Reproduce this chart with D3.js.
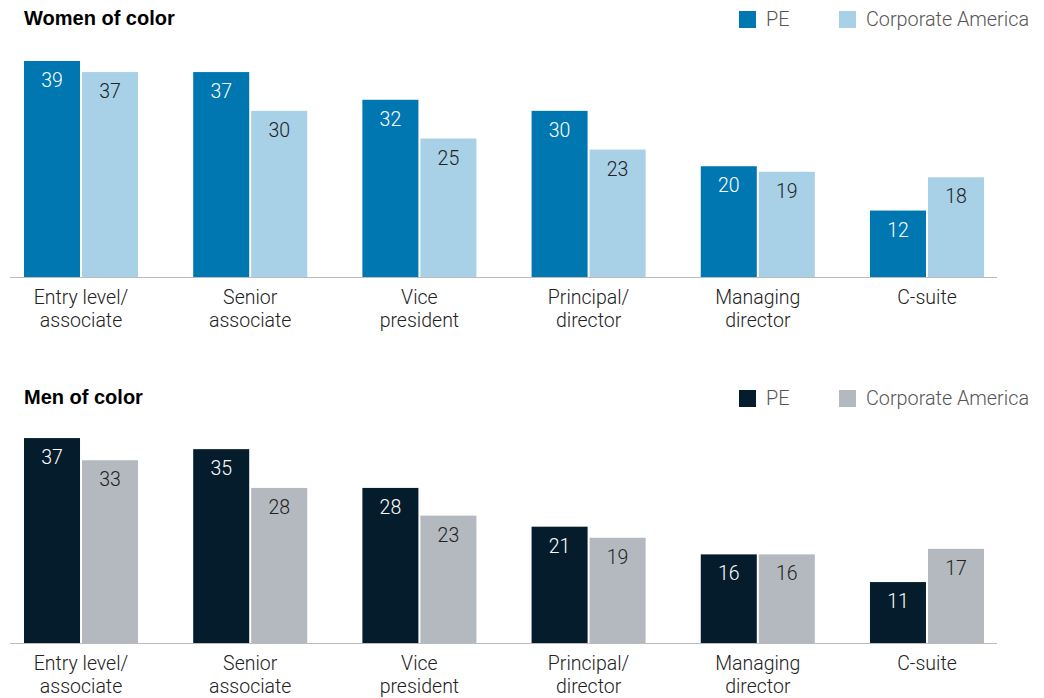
<!DOCTYPE html>
<html><head><meta charset="utf-8">
<script src="https://cdn.jsdelivr.net/npm/d3@7"></script>
<style>body{margin:0;background:#fff}svg{display:block}</style>
</head><body>
<svg id="c" width="1044" height="698"></svg>
<script>
const categories = [["Entry level/","associate"],["Senior","associate"],["Vice","president"],["Principal/","director"],["Managing","director"],["C-suite"]];
const seriesNames = ["PE","Corporate America"];
const womenPE = [39,37,32,30,20,12];
const womenCorp = [37,30,25,23,19,18];
const menPE = [37,35,28,21,16,11];
const menCorp = [33,28,23,19,16,17];

const svg = d3.select("#c");
const font = "Roboto, 'Liberation Sans', Arial, sans-serif";
const tfont = "'Liberation Sans', Arial, sans-serif";
const panels = [
  {title:"Women of color", top:0, base:277, data:[womenPE, womenCorp], colors:["#0077b0","#a8d0e6"], text:["#fff","#222"]},
  {title:"Men of color", top:379, base:643, data:[menPE, menCorp], colors:["#051c2c","#b3b9bf"], text:["#fff","#222"]}
];
const x = d3.scaleBand().domain(d3.range(categories.length)).range([24,984]).paddingInner(0.326).paddingOuter(0);
const xs = d3.scaleBand().domain([0,1]).range([0,x.bandwidth()]).paddingInner(0.0345);

panels.forEach(p => {
  const g = svg.append("g");
  const y = d3.scaleLinear().domain([0,39]).range([p.base, p.base-216]);
  g.append("text").attr("x",24).attr("y",p.top+25).attr("font-family",tfont).attr("font-weight","bold").attr("font-size",20).attr("fill","#000").text(p.title);
  const lx = [739, 839];
  seriesNames.forEach((n,i)=>{
    g.append("rect").attr("x",lx[i]).attr("y",p.top+11).attr("width",17).attr("height",17).attr("fill",p.colors[i]);
    g.append("text").attr("x",lx[i]+27).attr("y",p.top+26).attr("font-family",font).attr("font-weight",300).attr("font-size",19.8).attr("fill","#555").text(n);
  });
  p.data.forEach((vals,si)=>{
    g.selectAll(null).data(vals).enter().append("rect")
      .attr("x",(d,i)=>x(i)+xs(si)).attr("width",xs.bandwidth())
      .attr("y",d=>y(d)).attr("height",d=>p.base-y(d)).attr("fill",p.colors[si]);
    g.selectAll(null).data(vals).enter().append("text")
      .attr("x",(d,i)=>x(i)+xs(si)+xs.bandwidth()/2).attr("y",d=>y(d)+26)
      .attr("text-anchor","middle").attr("font-family",font).attr("font-weight",300).attr("font-size",19.5).attr("fill",p.text[si]).text(d=>d);
  });
  g.append("line").attr("x1",10).attr("x2",997).attr("y1",p.base+0.5).attr("y2",p.base+0.5).attr("stroke","#bbb").attr("stroke-width",1);
  const lab = g.selectAll(null).data(categories).enter().append("text")
    .attr("text-anchor","middle").attr("font-family",font).attr("font-weight",300).attr("font-size",19.5).attr("fill","#222");
  lab.each(function(d,i){
    const t = d3.select(this);
    d.forEach((line,li)=>{
      t.append("tspan").attr("x",x(i)+x.bandwidth()/2).attr("y",p.base+27+li*23).text(line);
    });
  });
});
</script>
</body></html>
